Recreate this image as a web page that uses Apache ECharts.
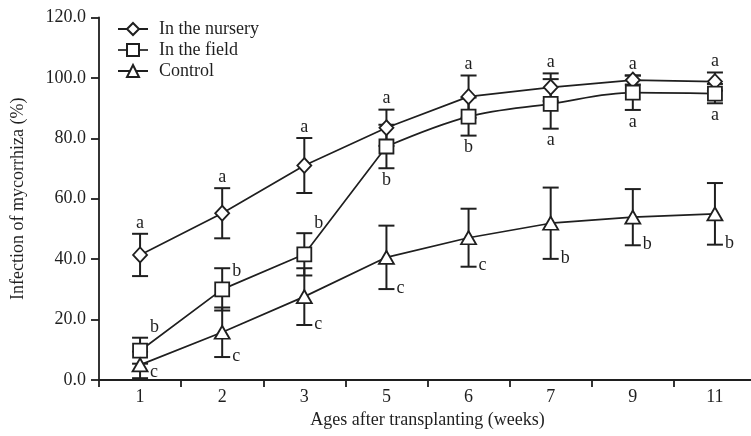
<!DOCTYPE html>
<html><head><meta charset="utf-8">
<script src="https://cdn.jsdelivr.net/npm/echarts@6/dist/echarts.min.js"></script>
<style>html,body{margin:0;padding:0;background:#fff}#c{width:751px;height:436px}</style>
</head><body><div id="c"></div>
<script>
// ---- data ----
const categories = ['1', '2', '3', '5', '6', '7', '9', '11'];
const seriesNames = ['In the nursery', 'In the field', 'Control'];

const nurseryMean = [41.4, 55.2, 71.0, 83.5, 93.8, 96.9, 99.3, 98.8];
const nurseryErr  = [7.0, 8.3, 9.1, 6.0, 7.0, 4.6, 1.5, 3.0];
const nurseryLetters = ['a', 'a', 'a', 'a', 'a', 'a', 'a', 'a'];

const fieldMean = [9.7, 30.0, 41.6, 77.3, 87.2, 91.4, 95.1, 94.8];
const fieldErr  = [4.3, 7.0, 7.0, 7.2, 6.3, 8.2, 5.7, 3.2];
const fieldLetters = ['b', 'b', 'b', 'b', 'b', 'a', 'a', 'a'];

const controlMean = [5.0, 15.8, 27.6, 40.6, 47.1, 51.9, 53.9, 55.0];
const controlErr  = [4.4, 8.2, 9.4, 10.5, 9.6, 11.8, 9.3, 10.2];
const controlLetters = ['c', 'c', 'c', 'c', 'c', 'b', 'b', 'b'];

const yTicks = { min: 0, max: 120, interval: 20 };

// ---- letter placement (style, not data) ----
const nurseryPlace = ['above', 'above', 'above', 'above', 'above', 'above', 'above', 'above'];
const fieldPlace = ['upright', 'right', 'upright', 'below', 'below', 'below', 'below', 'below'];
const controlPlace = ['lowright', 'lowright', 'lowright', 'lowright', 'lowright', 'lowright', 'lowright', 'lowright'];

const INK = '#1f1f1f';
const FONT_FAMILY = '"Liberation Serif","Times New Roman",Times,serif';
const FS = 18;
const LINE_STYLE = { color: INK, width: 1.7 };

function errorSeries(id, means, errs, letters, place) {
  return {
    type: 'custom',
    name: id,
    z: 1,
    silent: true,
    clip: false,
    data: means.map((m, i) => [i, m, errs[i]]),
    encode: { x: 0, y: 1 },
    renderItem(params, api) {
      const i = api.value(0), m = api.value(1), s = api.value(2);
      const top = api.coord([i, m + s]);
      const bot = api.coord([i, m - s]);
      const cx = top[0];
      const hw = 8;
      const ls = { stroke: INK, lineWidth: 2 };
      const children = [
        { type: 'line', shape: { x1: cx, y1: top[1], x2: cx, y2: bot[1] }, style: ls },
        { type: 'line', shape: { x1: cx - hw, y1: top[1], x2: cx + hw, y2: top[1] }, style: ls },
        { type: 'line', shape: { x1: cx - hw, y1: bot[1], x2: cx + hw, y2: bot[1] }, style: ls }
      ];
      const p = place[params.dataIndex];
      let tx = cx, ty = top[1], align = 'center', va = 'bottom';
      if (p === 'above') { tx = cx; ty = top[1] - 2; align = 'center'; va = 'bottom'; }
      else if (p === 'upright') { tx = cx + 10; ty = top[1] - 1; align = 'left'; va = 'bottom'; }
      else if (p === 'right') { tx = cx + 10; ty = top[1] + 3; align = 'left'; va = 'middle'; }
      else if (p === 'below') { tx = cx; ty = bot[1] + 3; align = 'center'; va = 'top'; }
      else if (p === 'lowright') { tx = cx + 10; ty = Math.min(bot[1] - 1, 372); align = 'left'; va = 'middle'; }
      children.push({
        type: 'text', x: tx, y: ty,
        style: { text: letters[params.dataIndex], fill: INK, font: FS + 'px ' + FONT_FAMILY, align: align, verticalAlign: va }
      });
      return { type: 'group', children: children };
    }
  };
}

function lineSeries(name, data, symbol, size, lineStyle) {
  return {
    type: 'line',
    name: name,
    data: data,
    z: 3,
    smooth: false,
    symbol: symbol,
    symbolSize: size,
    showAllSymbol: true,
    lineStyle: lineStyle,
    itemStyle: { color: '#ffffff', borderColor: INK, borderWidth: 1.8 },
    emphasis: { disabled: true },
    silent: true
  };
}

// helper path pieces for the field curve: straight rise up to week 5, then a gentle curve
function pathPiece(id, data, smooth) {
  return {
    type: 'line', name: id, data: data, z: 2, smooth: smooth,
    symbol: 'none', lineStyle: LINE_STYLE, emphasis: { disabled: true }, silent: true
  };
}
const fieldStraight = fieldMean.map((v, i) => (i <= 3 ? v : null));
const fieldCurved = fieldMean.map((v, i) => (i >= 3 ? v : null));

const chart = echarts.init(document.getElementById('c'), null, { renderer: 'canvas' });
chart.setOption({
  animation: false,
  backgroundColor: '#ffffff',
  grid: { left: 99, top: 17.5, width: 657, bottom: 56, containLabel: false, outerBoundsMode: 'none' },
  legend: {
    data: [
      { name: seriesNames[0] },
      { name: seriesNames[1], lineStyle: { color: INK, width: 1.7, opacity: 1 } },
      { name: seriesNames[2] }
    ],
    orient: 'vertical',
    left: 112,
    top: 15,
    itemWidth: 30,
    itemHeight: 15,
    itemGap: 3,
    selectedMode: false,
    textStyle: { color: INK, fontFamily: FONT_FAMILY, fontSize: FS, lineHeight: 18, padding: [0, 0, 0, 6] }
  },
  xAxis: {
    type: 'category',
    data: categories,
    boundaryGap: true,
    name: 'Ages after transplanting (weeks)',
    nameLocation: 'middle',
    nameGap: 30,
    nameTextStyle: { color: INK, fontFamily: FONT_FAMILY, fontSize: FS },
    axisLine: { show: true, onZero: false, lineStyle: { color: INK, width: 1.8 } },
    axisTick: { show: true, inside: false, length: 7, lineStyle: { color: INK, width: 1.8 } },
    axisLabel: { color: INK, fontFamily: FONT_FAMILY, fontSize: FS, margin: 8 },
    splitLine: { show: false }
  },
  yAxis: {
    type: 'value',
    min: yTicks.min,
    max: yTicks.max,
    interval: yTicks.interval,
    name: 'Infection of mycorrhiza (%)',
    nameLocation: 'middle',
    nameGap: 72,
    nameRotate: 90,
    nameTextStyle: { color: INK, fontFamily: FONT_FAMILY, fontSize: FS },
    axisLine: { show: true, lineStyle: { color: INK, width: 1.8 } },
    axisTick: { show: true, inside: false, length: 8, lineStyle: { color: INK, width: 1.8 } },
    axisLabel: { color: INK, fontFamily: FONT_FAMILY, fontSize: FS, margin: 13, formatter: v => v.toFixed(1) },
    splitLine: { show: false }
  },
  series: [
    errorSeries('errNursery', nurseryMean, nurseryErr, nurseryLetters, nurseryPlace),
    errorSeries('errField', fieldMean, fieldErr, fieldLetters, fieldPlace),
    errorSeries('errControl', controlMean, controlErr, controlLetters, controlPlace),
    pathPiece('fieldStraight', fieldStraight, false),
    pathPiece('fieldCurved', fieldCurved, 0.35),
    lineSeries(seriesNames[0], nurseryMean, 'diamond', [14, 15], LINE_STYLE),
    lineSeries(seriesNames[1], fieldMean, 'rect', 14, { color: INK, width: 1.7, opacity: 0 }),
    lineSeries(seriesNames[2], controlMean, 'triangle', [15, 13], LINE_STYLE)
  ]
});
</script>
</body></html>
